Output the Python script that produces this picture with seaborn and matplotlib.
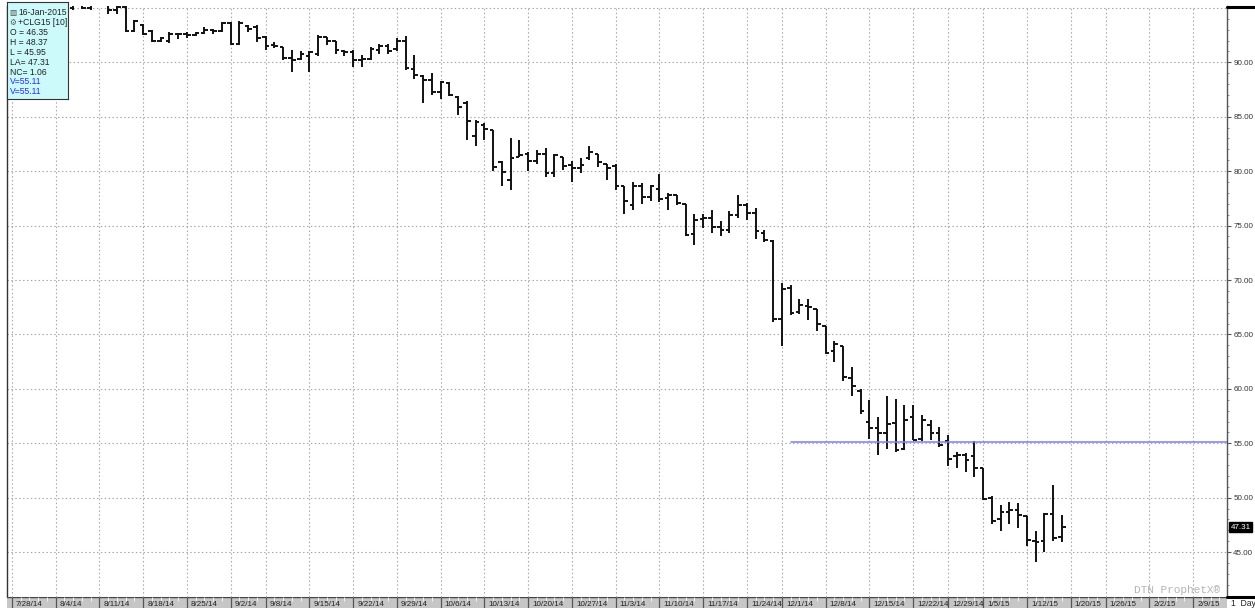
import numpy as np
import pandas as pd
import seaborn as sns
import matplotlib.pyplot as plt
from matplotlib.lines import Line2D
from matplotlib.ticker import FixedLocator, MultipleLocator

# Trading calendar (CLG15 daily bars)
first_day = '2014-07-28'
last_day = '2015-02-13'
holidays = ['2014-09-01', '2014-11-27', '2014-12-25', '2015-01-01', '2015-01-19']

open_ = [97.0, 96.5, 95.9, 96.2, 95.3, 95.5, 95.2, 95.0, 95.3, 95.0,
         95.4, 95.6, 94.8, 95.1, 92.9, 93.4, 92.9, 92.0, 92.0, 92.6,
         92.6, 92.5, 92.7, 93.0, 92.9, 93.6, 91.7, 93.3, 93.2, 92.3,
         91.6, 91.4, 90.4, 90.3, 90.6, 90.8, 92.3, 92.0, 91.0, 90.9,
         90.2, 90.3, 91.1, 91.5, 91.2, 92.0, 89.4, 88.7, 88.4, 87.3,
         88.1, 86.8, 86.3, 83.2, 84.2, 83.8, 80.8, 79.2, 81.3, 81.6,
         80.9, 81.6, 79.8, 81.3, 80.6, 80.3, 81.2, 81.6, 80.7, 80.5,
         78.6, 76.9, 78.6, 77.6, 78.4, 77.5, 77.8, 77.0, 74.2, 75.6,
         75.7, 74.9, 74.6, 76.0, 76.9, 76.2, 74.3, 73.6, 66.4, 69.3,
         67.1, 67.6, 67.3, 65.8, 63.5, 63.9, 61.0, 59.8, 57.0, 56.4,
         55.9, 56.9, 54.5, 57.4, 55.4, 56.7, 55.9, 55.2, 53.8, 53.9,
         53.8, 52.7, 50.0, 48.0, 48.7, 48.9, 48.3, 46.0, 46.0, 48.5,
         46.35]
high = [97.6, 96.9, 96.5, 96.4, 95.9, 96.0, 95.7, 95.6, 95.5, 95.4,
        96.0, 95.9, 95.3, 95.4, 93.9, 93.5, 93.0, 92.3, 92.8, 92.7,
        92.8, 92.8, 93.2, 93.1, 93.7, 93.7, 93.8, 93.4, 93.4, 92.4,
        91.9, 91.4, 91.1, 91.0, 91.0, 92.5, 92.3, 92.0, 91.1, 91.1,
        90.7, 91.4, 91.7, 91.7, 92.2, 92.4, 90.7, 88.8, 89.0, 88.3,
        88.2, 86.9, 86.4, 84.7, 84.4, 83.8, 80.9, 83.0, 82.9, 81.8,
        81.9, 82.1, 81.6, 81.3, 80.9, 81.2, 82.3, 81.6, 80.7, 80.7,
        78.6, 79.0, 78.9, 78.7, 79.7, 78.0, 77.8, 77.0, 76.1, 76.1,
        76.4, 75.4, 76.3, 77.8, 77.1, 76.6, 74.6, 73.7, 69.7, 69.5,
        68.3, 68.3, 67.3, 65.8, 64.4, 63.9, 62.0, 60.0, 59.0, 57.4,
        59.3, 59.1, 58.5, 58.5, 57.6, 57.1, 56.5, 55.8, 54.2, 54.1,
        55.2, 52.7, 50.2, 49.3, 49.6, 49.5, 48.3, 46.9, 48.6, 51.2,
        48.37]
low = [96.3, 95.7, 95.3, 95.0, 94.6, 94.9, 94.5, 94.8, 94.9, 94.8,
       95.2, 94.4, 94.4, 92.8, 92.8, 92.5, 91.9, 91.9, 91.8, 92.1,
       92.2, 92.4, 92.6, 92.6, 92.8, 91.6, 91.6, 92.8, 91.9, 91.1,
       91.3, 90.2, 89.1, 90.2, 89.1, 90.6, 91.6, 90.8, 90.6, 89.6,
       89.6, 90.2, 90.8, 90.8, 91.0, 89.3, 88.5, 86.3, 87.0, 86.6,
       86.9, 85.2, 82.9, 82.3, 82.9, 80.0, 78.6, 78.3, 81.3, 80.0,
       80.7, 79.5, 79.5, 80.1, 79.0, 79.8, 81.0, 80.4, 79.2, 78.3,
       76.1, 76.4, 77.0, 77.3, 77.2, 76.4, 76.9, 74.0, 73.2, 74.8,
       74.3, 74.0, 74.3, 75.7, 75.5, 73.8, 73.5, 66.1, 63.9, 66.8,
       66.9, 66.3, 65.3, 63.2, 62.5, 60.7, 59.3, 57.7, 55.4, 53.9,
       54.5, 54.2, 54.4, 55.3, 55.2, 55.3, 54.7, 52.9, 52.7, 52.4,
       51.9, 49.8, 47.6, 46.9, 47.6, 47.2, 45.6, 44.1, 45.0, 46.0,
       45.95]
close = [96.5, 95.9, 96.2, 95.3, 95.5, 95.2, 94.9, 95.3, 95.0, 95.3,
         95.7, 94.8, 95.1, 92.9, 93.8, 92.6, 92.0, 92.2, 92.6, 92.6,
         92.5, 92.7, 93.0, 92.9, 93.6, 91.7, 93.6, 93.1, 92.2, 91.5,
         91.5, 90.4, 90.2, 90.8, 90.9, 92.3, 92.0, 91.1, 90.9, 90.2,
         90.3, 91.2, 91.5, 91.0, 92.0, 89.5, 88.8, 88.4, 87.3, 88.2,
         87.0, 85.9, 84.6, 84.5, 83.9, 80.4, 79.9, 81.2, 81.5, 80.9,
         81.6, 79.8, 81.5, 80.5, 80.3, 80.6, 81.8, 80.8, 80.3, 78.6,
         77.3, 78.6, 77.6, 78.6, 77.4, 77.8, 77.1, 74.1, 75.5, 75.7,
         74.9, 74.6, 76.0, 76.9, 76.2, 74.5, 73.7, 66.4, 69.2, 67.0,
         67.7, 67.5, 66.0, 63.3, 64.1, 61.1, 60.3, 58.0, 56.4, 55.9,
         56.8, 54.4, 57.1, 55.3, 57.1, 55.9, 54.8, 53.6, 53.9, 53.5,
         52.7, 49.9, 47.9, 48.7, 48.9, 48.4, 46.1, 45.9, 48.5, 46.3,
         47.31]

level_start = '2014-12-02'
level_value = 55.11
last_value = 47.31
price_ticks = [45, 50, 55, 60, 65, 70, 75, 80, 85, 90, 95]

info_icons = ['\u25a7', '\u2699', '', '', '', '', '', '', '']
info_lines = ['16-Jan-2015', '+CLG15 [10]', 'O = 46.35', 'H = 48.37', 'L = 45.95',
              'LA= 47.31', 'NC= 1.06', 'V=55.11', 'V=55.11']
info_colors = ['#222222'] * 7 + ['#2a2aff'] * 2

# positions
sessions = pd.bdate_range(first_day, last_day)
sessions = sessions[~sessions.isin(pd.to_datetime(holidays))]
dat = pd.DataFrame({'date': sessions[:len(open_)], 'open': open_, 'high': high,
                    'low': low, 'close': close})
dat['x'] = np.arange(len(dat))
week = sessions.to_period('W')
week_pos = [i for i in range(len(sessions)) if i == 0 or week[i] != week[i - 1]]
week_lab = [f"{sessions[i].month}/{sessions[i].day}/{sessions[i]:%y}" for i in week_pos]
level_x = sessions.get_loc(pd.Timestamp(level_start))

sns.set_theme(style='white')
plt.rcParams['font.family'] = ['Liberation Sans', 'DejaVu Sans']

W, H = 1255, 608
fig = plt.figure(figsize=(W / 100, H / 100), dpi=100)
ax = fig.add_axes([7 / W, 11 / H, 1220 / W, 591 / H])
x0, x1 = -0.57, 138.86
ax.set_xlim(x0, x1)
ax.set_ylim(40.88, 95.17)

# grid
grid_kw = dict(color='#a6a6a6', linestyle=(0, (1.3, 2.2)), linewidth=0.8)
ax.xaxis.set_major_locator(FixedLocator(week_pos))
ax.yaxis.set_major_locator(FixedLocator(price_ticks))
ax.yaxis.set_minor_locator(MultipleLocator(1))
ax.grid(True, which='major', **grid_kw)
ax.set_axisbelow(True)
ax.tick_params(axis='x', length=0, labelbottom=False)
ax.yaxis.tick_right()
ax.set_yticklabels([f'{v:.2f}' if v < 95 else '' for v in price_ticks])
ax.tick_params(axis='y', which='major', length=3, width=0.8, color='#555555',
               labelsize=5.8, labelcolor='#333333', pad=1.5)
ax.tick_params(axis='y', which='minor', length=1.5, width=0.6, color='#777777')
for s in ['top', 'bottom']:
    ax.spines[s].set_visible(False)
ax.spines['left'].set_color('#333333')
ax.spines['right'].set_color('#555555')
ax.spines['left'].set_linewidth(1.0)
ax.spines['right'].set_linewidth(1.0)

# OHLC bars
bar_kw = dict(color='#111111', linewidth=1.4)
ax.vlines(dat.x, dat.low, dat.high, **bar_kw)
ax.hlines(dat.open, dat.x - 0.42, dat.x, **bar_kw)
ax.hlines(dat.close, dat.x, dat.x + 0.42, **bar_kw)

# horizontal level line
lvl = pd.DataFrame({'x': [level_x, x1], 'y': [level_value, level_value]})
sns.lineplot(data=lvl, x='x', y='y', ax=ax, color='#7b7bff', linewidth=1.1)
ax.set_xlabel('')
ax.set_ylabel('')

# last price tag
ax.annotate(f'{last_value:.2f}', xy=(1.0, last_value), xycoords=('axes fraction', 'data'),
            xytext=(2.5, 0), textcoords='offset points', va='center', ha='left',
            fontsize=5.8, color='white',
            bbox=dict(boxstyle='square,pad=0.15', fc='black', ec='black'))

# watermark
fig.text(1220 / W, 1 - 590 / H, 'DTN ProphetX\u00ae', ha='right', va='center',
         fontsize=8, color='#b5b5b5', family=['Liberation Mono', 'DejaVu Sans Mono'])

# right column thick lines
fig.add_artist(Line2D([1227 / W, 1], [1 - 7 / H] * 2, color='black', lw=2.2,
                      transform=fig.transFigure))
fig.add_artist(Line2D([1227 / W, 1], [1 - 596.5 / H] * 2, color='black', lw=2.2,
                      transform=fig.transFigure))
fig.text(1231 / W, 0.5 / H, '1  Day', ha='left', va='bottom', fontsize=6.2, color='#222222')

# date strip
sx = fig.add_axes([7 / W, 0, 1220 / W, 11 / H])
sx.set_facecolor('#c6c6c6')
sx.set_xlim(x0, x1)
sx.set_ylim(0, 11)
sx.set_xticks([])
sx.set_yticks([])
for s in sx.spines.values():
    s.set_visible(False)
sx.axhline(10.6, color='#444444', lw=1.0)
sx.vlines(np.arange(len(sessions)), 7.5, 10.6, color='#f2f2f2', lw=0.7)
sx.vlines(week_pos, 0, 11, color='#555555', lw=0.9)
for p, lab in zip(week_pos, week_lab):
    sx.text(p + 0.45, 0.4, lab, ha='left', va='bottom', fontsize=5.8, color='#222222')

# info box
ib = fig.add_axes([7 / W, 1 - 99 / H, 61 / W, 97 / H])
ib.set_facecolor('#ccfafa')
ib.set_xticks([])
ib.set_yticks([])
for s in ib.spines.values():
    s.set_color('#333333')
    s.set_linewidth(0.8)
ib.set_xlim(7, 68)
ib.set_ylim(99, 2)
line_y = 12.7
for icon, txt, col in zip(info_icons, info_lines, info_colors):
    if icon:
        ib.text(9.5, line_y, icon, ha='left', va='center', fontsize=5.5, color='#555555',
                family=['DejaVu Sans'])
        ib.text(18.0, line_y, txt, ha='left', va='center', fontsize=6.2, color=col)
    else:
        ib.text(9.5, line_y, txt, ha='left', va='center', fontsize=6.2, color=col)
    line_y += 9.9

fig.savefig('out.png', dpi=100)
